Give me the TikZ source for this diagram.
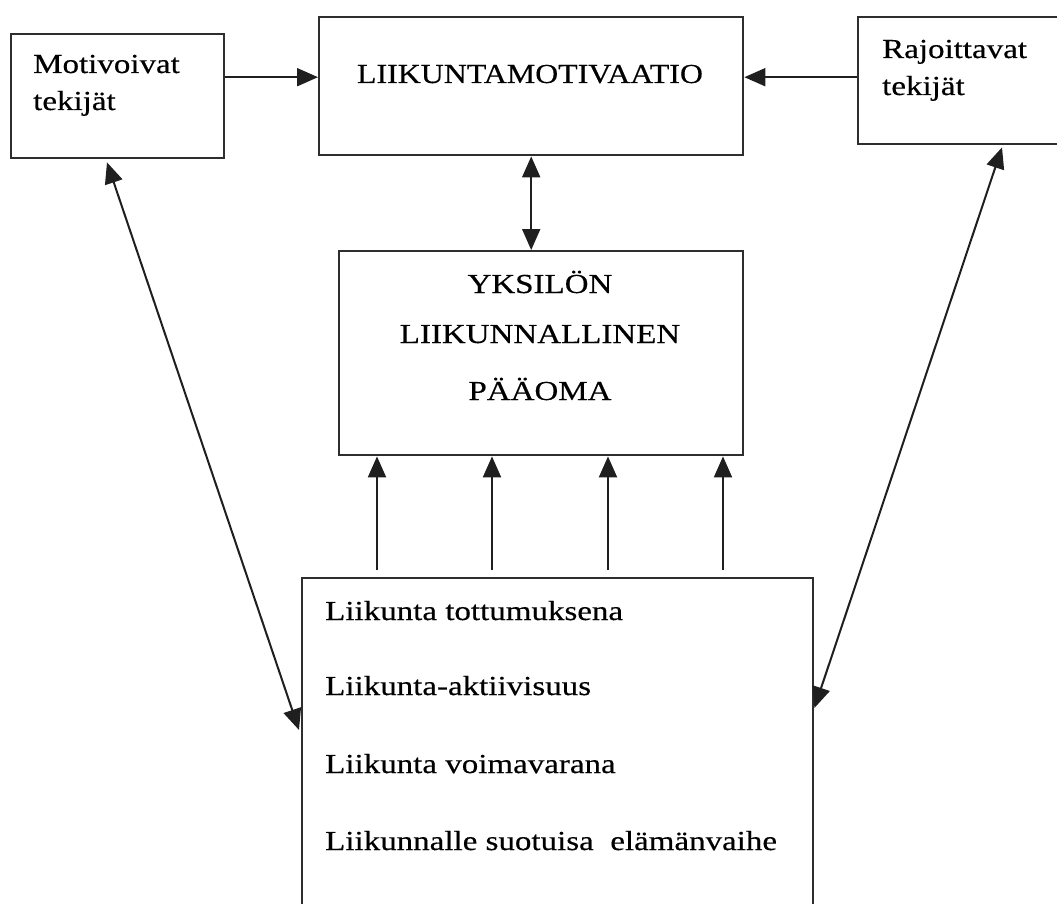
\documentclass[tikz,border=0pt]{standalone}
\usepackage{fontspec}
\setmainfont{Liberation Serif}[FakeStretch=1.2,FakeBold=0.4]
\newfontfamily\capfont{Liberation Serif}[FakeStretch=1.16,FakeBold=0.4]
\usetikzlibrary{arrows.meta,calc}
\begin{document}
\begin{tikzpicture}[x=1pt,y=-1pt,
 box/.style={draw=black!82,line width=2.4pt,inner sep=0pt,anchor=north west},
 lbl/.style={inner sep=0pt,font=\fontsize{27.5}{33}\selectfont,text=black},
 arr/.style={line width=2pt,draw=black!88,-{Triangle[length=21pt,width=18pt]}},
 darr/.style={line width=2pt,draw=black!88,{Triangle[length=21pt,width=18pt]}-{Triangle[length=21pt,width=18pt]}}]
\clip (0,0) rectangle (1057,904);
\fill[white] (0,0) rectangle (1057,904);
% boxes
\node[box,minimum width=213pt,minimum height=124pt] (mot) at (10,33) {};
\node[box,minimum width=424pt,minimum height=138pt] (liik) at (318,16) {};
\node[box,minimum width=215pt,minimum height=127pt] (raj) at (857,16) {};
\node[box,minimum width=404pt,minimum height=204pt] (yks) at (338,250) {};
\node[box,minimum width=511pt,minimum height=340pt] (bot) at (301,577) {};
% texts
\node[lbl,anchor=base west] (t1) at (33,73) {Motivoivat};
\node[lbl,anchor=base west] (t2) at (33,110) {tekijät};
\node[lbl,anchor=base,font=\capfont\fontsize{27.5}{33}\selectfont] (t3) at (530,83) {LIIKUNTAMOTIVAATIO};
\node[lbl,anchor=base west] (t4) at (882,58) {Rajoittavat};
\node[lbl,anchor=base west] (t5) at (882,95) {tekijät};
\node[lbl,anchor=base] (t6) at (540,293) {YKSILÖN};
\node[lbl,anchor=base] (t7) at (540,343) {LIIKUNNALLINEN};
\node[lbl,anchor=base] (t8) at (540,400) {PÄÄOMA};
\node[lbl,anchor=base west] (t9) at (325,620) {Liikunta tottumuksena};
\node[lbl,anchor=base west] (t10) at (325,695) {Liikunta-aktiivisuus};
\node[lbl,anchor=base west] (t11) at (325,773) {Liikunta voimavarana};
\node[lbl,anchor=base west] (t12) at (325,850) {Liikunnalle suotuisa\ \ elämänvaihe};
% connectors
\draw[arr] ([yshift=19pt]mot.east) -- ([yshift=9pt]liik.west);
\draw[arr] ([yshift=3.5pt]raj.west) -- ([yshift=9pt]liik.east);
\draw[darr] (liik.south) -- (liik.south |- yks.north);
\foreach \a/\b in {76/39,191/154,307/270,422/385}
  \draw[arr] ($(bot.north west)+(\a,-7)$) -- ($(yks.south west)+(\b,0)$);
\draw[darr] ($(mot.south west)+(97,3)$) -- ($(bot.north west)+(-2,153)$);
\draw[darr] ($(raj.south west)+(145,2)$) -- ($(bot.north east)+(0,131)$);
\end{tikzpicture}
\end{document}
